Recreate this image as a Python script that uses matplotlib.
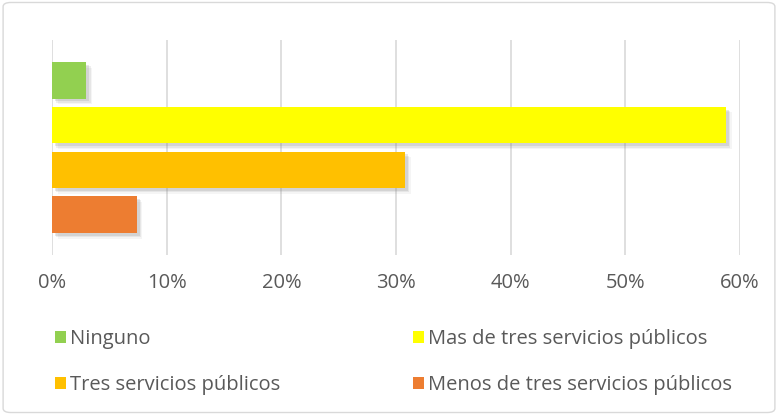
import matplotlib
matplotlib.use("Agg")
import matplotlib.pyplot as plt
import matplotlib.patheffects as pe
from matplotlib.patches import FancyBboxPatch, Patch
from matplotlib.ticker import PercentFormatter

# data
categories = ["Ninguno", "Mas de tres servicios públicos",
              "Tres servicios públicos", "Menos de tres servicios públicos"]
values = [3.0, 58.8, 30.8, 7.4]
colors = ["#92d050", "#ffff00", "#ffc000", "#ed7d31"]
x_ticks = [0, 10, 20, 30, 40, 50, 60]

text_color = "#595959"
plt.rcParams['font.family'] = ['Open Sans', 'DejaVu Sans']

fig = plt.figure(figsize=(7.78, 4.15), dpi=100)
ax = fig.add_axes([52 / 778, 1 - 255 / 415, 688 / 778, 215 / 415])

# soft drop shadow, a few layers to fake a blur
shadow = [pe.SimplePatchShadow(offset=(o, -o), shadow_rgbFace="#808080",
                               alpha=a)
          for o, a in [(4, 0.08), (3, 0.12), (2, 0.18)]] + [pe.Normal()]

# one bar per series, top to bottom
positions = list(range(len(categories) - 1, -1, -1))
for pos, val, col, name in zip(positions, values, colors, categories):
    bar = ax.barh(pos, val, height=0.82, color=col, label=name, zorder=3)
    for p in bar.patches:
        p.set_path_effects(shadow)

ax.set_xlim(0, 60)
ax.set_ylim(-0.9, 3.9)
ax.set_xticks(x_ticks)
ax.xaxis.set_major_formatter(PercentFormatter(decimals=0))
ax.set_yticks([])
ax.grid(axis="x", color="#d9d9d9", linewidth=1.2, zorder=0)
for s in ax.spines.values():
    s.set_visible(False)
ax.tick_params(axis="x", length=0, pad=13, labelsize=14.5,
               labelcolor=text_color)

# legend, two rows in the order of the reference
order = [0, 2, 1, 3]
handles = [Patch(facecolor=colors[i]) for i in order]
labels = [categories[i] for i in order]
fig.legend(handles, labels, ncol=2, loc="upper left",
           bbox_to_anchor=(37 / 778, 1 - 311 / 415), frameon=False,
           fontsize=14.5, labelcolor=text_color, handlelength=0.55,
           handleheight=0.55, handletextpad=0.2, columnspacing=6.6,
           labelspacing=1.3)

# rounded outer border
fig.patches.append(FancyBboxPatch((0.004, 0.006), 0.992, 0.988,
                                  boxstyle="round,pad=0,rounding_size=0.01",
                                  transform=fig.transFigure,
                                  facecolor="none", edgecolor="#d9d9d9",
                                  linewidth=1))

fig.savefig("out.png", dpi=100)
